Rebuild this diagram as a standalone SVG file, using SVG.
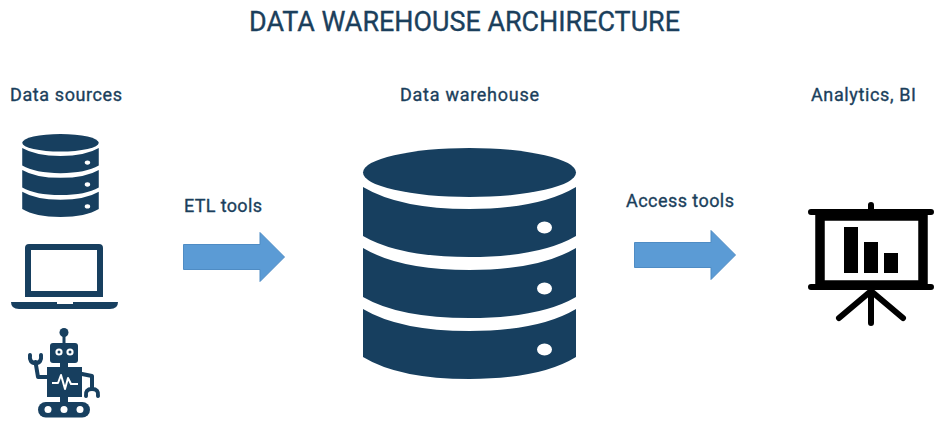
<svg xmlns="http://www.w3.org/2000/svg" xmlns:xlink="http://www.w3.org/1999/xlink" width="947" height="427" viewBox="0 0 947 427">
<style>
text{font-family:"Roboto","Liberation Sans",sans-serif;fill:#1b3f5c;font-weight:400;stroke:#1b3f5c;stroke-width:.35}
.t{font-size:27px}
.l{font-size:18px}
.d{fill:#173f5f}
.w{fill:#fff}
.arrow{fill:#5b9bd5;stroke:#4f8cc4;stroke-width:1}
.k{fill:none;stroke:#000;stroke-linecap:round}
.r{fill:none;stroke:#173f5f;stroke-width:4;stroke-linecap:round;stroke-linejoin:round}
</style>
<defs>
<symbol id="db" viewBox="363 148 213 231" overflow="visible">
<ellipse class="d" cx="469.500" cy="172.500" rx="106.500" ry="24.500"/>
<path class="d" d="M363 187Q400 209 469.500 209Q539 209 576 187V236Q540 257 469.500 257Q399 257 363 236Z"/>
<path class="d" d="M363 248Q400 270 469.500 270Q539 270 576 248V297Q540 318 469.500 318Q399 318 363 297Z"/>
<path class="d" d="M363 309Q400 331 469.500 331Q539 331 576 309V357Q540 379 469.500 379Q399 379 363 357Z"/>
<ellipse class="w" cx="544.500" cy="227.500" rx="7.500" ry="6"/>
<ellipse class="w" cx="544.500" cy="288.500" rx="7.500" ry="6"/>
<ellipse class="w" cx="544.500" cy="349.500" rx="7.500" ry="6"/>
</symbol>
</defs>
<rect width="947" height="427" fill="#fff"/>
<text class="t" x="249" y="31" textLength="431" lengthAdjust="spacingAndGlyphs">DATA WAREHOUSE ARCHIRECTURE</text>
<text class="l" x="10" y="101" textLength="112" lengthAdjust="spacing">Data sources</text>
<text class="l" x="400" y="101" textLength="139" lengthAdjust="spacing">Data warehouse</text>
<text class="l" x="811" y="101" textLength="105" lengthAdjust="spacing">Analytics, BI</text>
<text class="l" x="184" y="212" textLength="78" lengthAdjust="spacing">ETL tools</text>
<text class="l" x="626" y="207" textLength="108" lengthAdjust="spacing">Access tools</text>
<g id="connectors">
<path class="arrow" d="M183.500 244.500H260V232.500L284.500 257L260 281.500V269.500H183.500Z"/>
<path class="arrow" d="M634.500 242.500H711V230.500L735.500 255L711 279.500V267.500H634.500Z"/>
</g>
<g id="source-database"><use xlink:href="#db" href="#db" x="22" y="134" width="77" height="83"/></g>
<g id="source-laptop">
<path class="d" fill-rule="evenodd" d="M29 244H99Q103 244 103 248V297H25V248Q25 244 29 244ZM31 250V291H97V250Z"/>
<path class="d" d="M11 302H57V304H73V302H118Q118 309 110 309H19Q11 309 11 302Z"/>
</g>
<g id="source-robot">
<circle class="d" cx="64" cy="332.500" r="4.500"/>
<rect class="d" x="62.500" y="334" width="3" height="10"/>
<rect class="d" x="50" y="343" width="28" height="20" rx="3"/>
<circle class="w" cx="59" cy="352" r="3.600"/><circle class="d" cx="59" cy="352" r="1.500"/>
<circle class="w" cx="70" cy="352" r="3.600"/><circle class="d" cx="70" cy="352" r="1.500"/>
<rect class="d" x="60" y="362" width="8" height="6"/>
<rect class="d" x="47" y="367" width="35" height="30"/>
<path d="M52 383H58L61 375L65 389L68 378L71 384H78" fill="none" stroke="#fff" stroke-width="2" stroke-linejoin="round"/>
<path class="r" d="M48 377H38L35.500 362"/>
<path class="r" d="M30 355Q29 363 35.500 363Q42 363 41 355"/>
<path class="r" d="M82 374L92 376V388"/>
<path class="r" d="M86 396Q85 389 92 389Q99 389 98 396"/>
<rect class="d" x="60" y="397" width="8" height="5"/>
<rect class="d" x="38" y="402" width="52" height="15.500" rx="7.750"/>
<circle class="w" cx="48" cy="409.500" r="3.500"/><circle class="w" cx="64" cy="409.500" r="3.500"/><circle class="w" cx="80" cy="409.500" r="3.500"/>
</g>
<g id="warehouse"><use xlink:href="#db" href="#db" x="363" y="148" width="213" height="231"/></g>
<g id="analytics">
<path class="k" stroke-width="6" d="M871 205V211M811 212H931M811 287H931M871 290V323M871 291L839 318M871 291L903 318"/>
<rect x="820" y="216" width="103" height="69" fill="none" stroke="#000" stroke-width="9.500"/>
<rect x="844" y="227" width="14" height="46"/>
<rect x="864" y="242" width="14" height="31"/>
<rect x="884" y="253" width="14" height="20"/>
</g>
</svg>
